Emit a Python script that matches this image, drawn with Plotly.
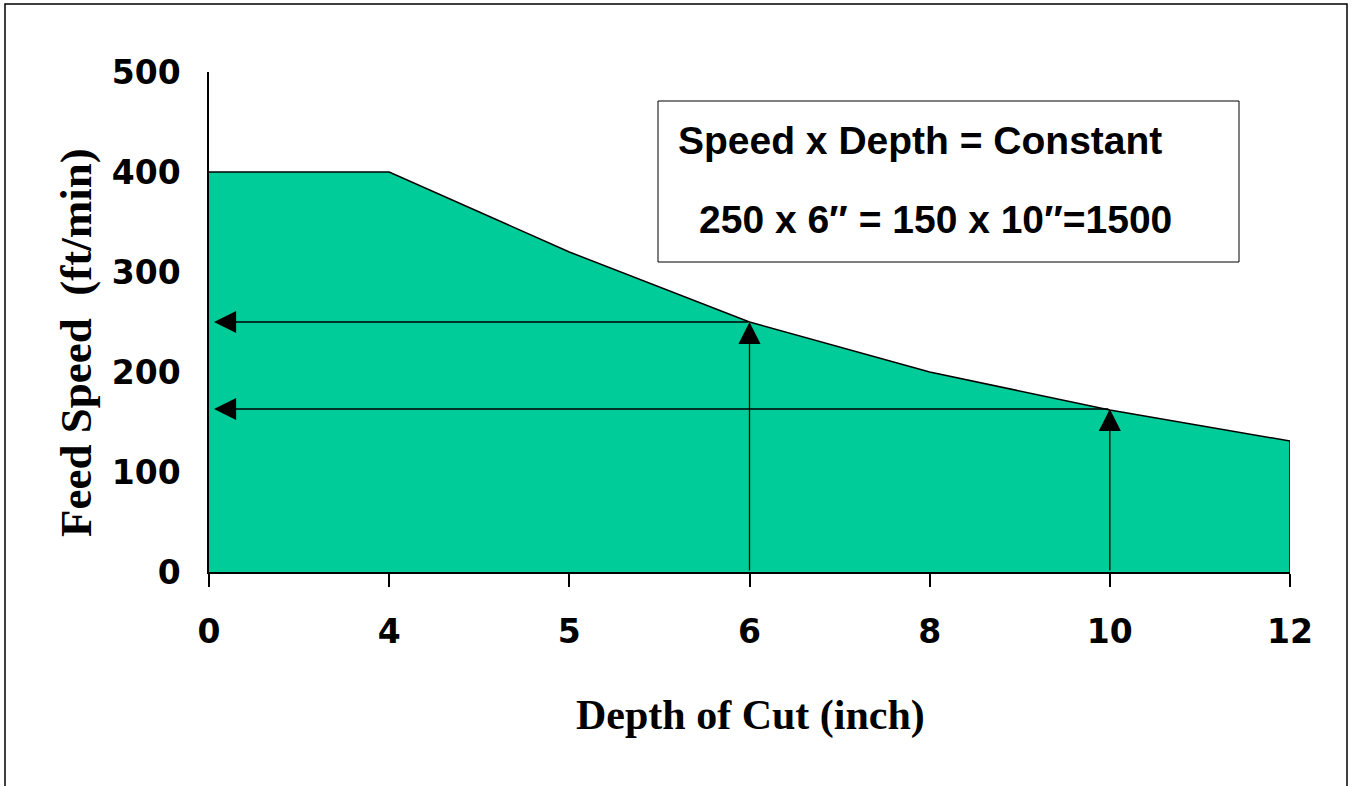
import plotly.graph_objects as go

# ---- data ----
depth_labels = ["0", "4", "5", "6", "8", "10", "12"]
feed_speed = [400, 400, 320, 250, 200, 162, 131]
y_ticks = [0, 100, 200, 300, 400, 500]

arrow_depths = ["6", "10"]
arrow_speeds = [250, 163]

box_line1 = "Speed x Depth = Constant"
box_line2 = "250 x 6\u2033 = 150 x 10\u2033=1500"
x_title = "Depth of Cut (inch)"
y_title = "Feed Speed  (ft/min)"

W, H = 1351, 786
L, R, T, B = 209, 1290, 72, 572  # plot area in px


def px_x(px):
    return (px - L) / (R - L)


def px_y(py):
    return (B - py) / (B - T)


fig = go.Figure()

# area with closing vertical edge at the last category
fig.add_trace(go.Scatter(
    x=depth_labels + [depth_labels[-1]],
    y=feed_speed + [0],
    mode="lines",
    fill="tozeroy",
    fillcolor="#00CC99",
    line=dict(color="black", width=1.5),
    hoverinfo="skip",
    showlegend=False,
))

annotations = []
for d, s in zip(arrow_depths, arrow_speeds):
    idx = depth_labels.index(d)
    # horizontal arrow to the y axis
    annotations.append(dict(
        x=0, y=s, ax=idx, ay=s, xref="x", yref="y", axref="x", ayref="y",
        text="", showarrow=True, arrowhead=2, arrowsize=3.4, arrowwidth=1.3,
        arrowcolor="black", standoff=5,
    ))
    # vertical arrow up from the x axis
    annotations.append(dict(
        x=idx, y=s, ax=idx, ay=0, xref="x", yref="y", axref="x", ayref="y",
        text="", showarrow=True, arrowhead=2, arrowsize=3.4, arrowwidth=1.3,
        arrowcolor="black", standoff=0,
    ))

box_font = dict(family="Liberation Sans, Arial, sans-serif", size=39, color="black", weight="bold")
annotations.append(dict(
    x=px_x(676), y=px_y(140), xref="paper", yref="paper", xanchor="left", yanchor="middle",
    text=box_line1, showarrow=False, font=box_font,
))
annotations.append(dict(
    x=px_x(697), y=px_y(219), xref="paper", yref="paper", xanchor="left", yanchor="middle",
    text=box_line2, showarrow=False, font=box_font,
))

title_font = dict(family="Liberation Serif, Times New Roman, serif", color="black", weight="bold")
annotations.append(dict(
    x=px_x(750), y=px_y(715), xref="paper", yref="paper", xanchor="center", yanchor="middle",
    text=x_title, showarrow=False, font=dict(title_font, size=42),
))
annotations.append(dict(
    x=px_x(76), y=px_y(343), xref="paper", yref="paper", xanchor="center", yanchor="middle",
    text=y_title, showarrow=False, textangle=-90, font=dict(title_font, size=45),
))

shapes = [
    # text box
    dict(type="rect", xref="paper", yref="paper",
         x0=px_x(658), x1=px_x(1239), y0=px_y(262), y1=px_y(101),
         line=dict(color="black", width=1), fillcolor="white", layer="above"),
    # outer frame
    dict(type="rect", xref="paper", yref="paper",
         x0=px_x(5), x1=px_x(1347), y0=px_y(800), y1=px_y(4),
         line=dict(color="black", width=1.5)),
]

tick_font = dict(family="DejaVu Sans, Verdana, sans-serif", size=33, color="black", weight="bold")

fig.update_layout(
    width=W, height=H,
    margin=dict(l=L, r=W - R, t=T, b=H - B, pad=0),
    paper_bgcolor="white", plot_bgcolor="white",
    showlegend=False,
    annotations=annotations,
    shapes=shapes,
    xaxis=dict(
        type="category", range=[0, len(depth_labels) - 1],
        showline=True, linecolor="black", linewidth=2,
        ticks="outside", ticklen=13, tickwidth=1.5, tickcolor="black",
        tickfont=tick_font, ticklabelstandoff=16,
        showgrid=False, zeroline=False, fixedrange=True,
    ),
    yaxis=dict(
        range=[0, 500], tickvals=y_ticks,
        showline=True, linecolor="black", linewidth=1.5,
        ticks="", tickfont=tick_font, ticklabelstandoff=20,
        showgrid=False, zeroline=False, fixedrange=True,
    ),
)

fig.write_html(
    "out.html",
    config={"displayModeBar": False},
    post_script="document.body.style.margin='0';document.body.style.overflow='hidden';",
)
